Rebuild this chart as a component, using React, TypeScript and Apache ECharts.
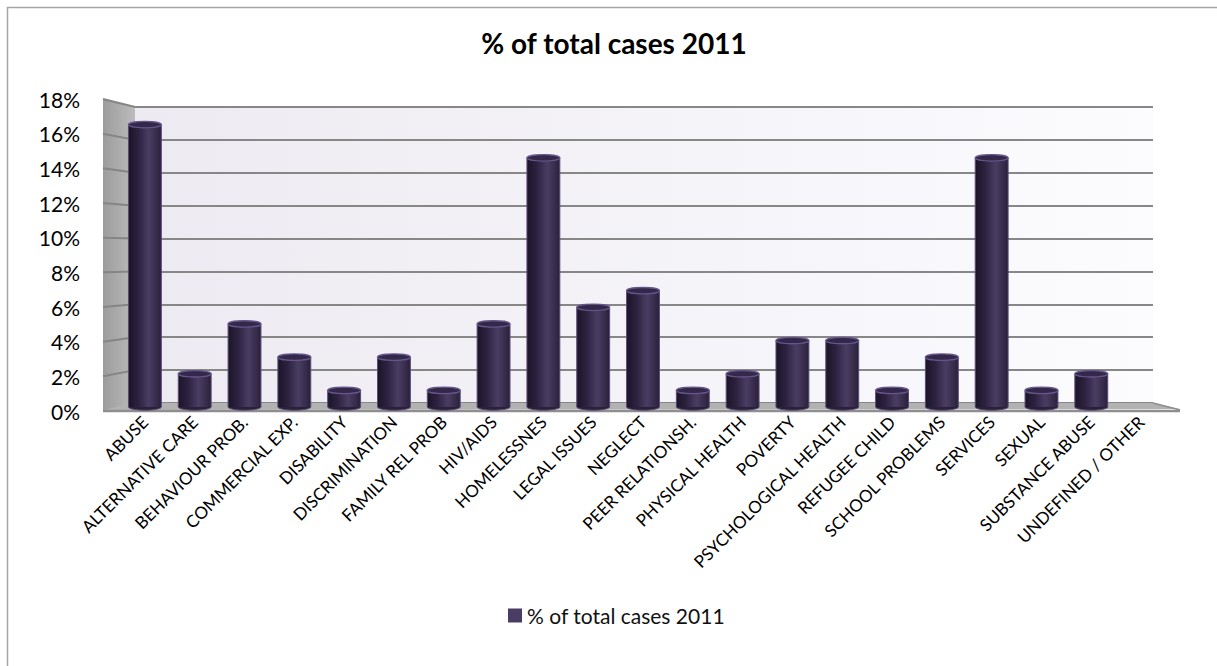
import React, { useEffect, useRef } from "react";
import * as echarts from "echarts";

const categories = [
  "ABUSE", "ALTERNATIVE CARE", "BEHAVIOUR PROB.", "COMMERCIAL EXP.", "DISABILITY",
  "DISCRIMINATION", "FAMILY REL PROB", "HIV/AIDS", "HOMELESSNES", "LEGAL ISSUES",
  "NEGLECT", "PEER RELATIONSH.", "PHYSICAL HEALTH", "POVERTY", "PSYCHOLOGICAL HEALTH",
  "REFUGEE CHILD", "SCHOOL PROBLEMS", "SERVICES", "SEXUAL", "SUBSTANCE ABUSE",
  "UNDEFINED / OTHER",
];
const values = [17, 2, 5, 3, 1, 3, 1, 5, 15, 6, 7, 1, 2, 4, 4, 1, 3, 15, 1, 2, 0];
const yTicks = [0, 2, 4, 6, 8, 10, 12, 14, 16, 18];
const seriesName = "% of total cases 2011";
const chartTitle = "% of total cases 2011";

const FONT = "Lato, 'Open Sans', sans-serif";
const W = 1217;
const H = 666;
// layout of the pseudo-3D box
const WALL = { left: 135, right: 1153, top: 107, bottom: 403 };
const FRONT = { left: 103, right: 1180, top: 99, bottom: 411 };
const BARS = { left: 120, right: 1166, top: 108, bottom: 407 };

export default function App() {
  const ref = useRef<HTMLDivElement>(null);

  useEffect(() => {
    document.body.style.margin = "0";
    if (!ref.current) return;
    const chart = echarts.init(ref.current, undefined, { renderer: "svg" });
    const yMax = yTicks[yTicks.length - 1];
    const wallY = (v: number) => WALL.bottom - (v / yMax) * (WALL.bottom - WALL.top);
    const frontY = (v: number) => FRONT.bottom - (v / yMax) * (FRONT.bottom - FRONT.top);

    const graphics: any[] = [
      // outer chart border
      {
        type: "rect",
        z: 0,
        shape: { x: 7.5, y: 7.5, width: 1260, height: 720 },
        style: { fill: "none", stroke: "#a6a6a6", lineWidth: 1.5 },
      },
      // left side wall
      {
        type: "polygon",
        z: 1,
        shape: {
          points: [
            [FRONT.left, FRONT.top],
            [WALL.left, WALL.top],
            [WALL.left, WALL.bottom],
            [FRONT.left, FRONT.bottom],
          ],
        },
        style: {
          fill: new echarts.graphic.LinearGradient(0, 0, 1, 0, [
            { offset: 0, color: "#9c9c9c" },
            { offset: 1, color: "#bcbcbc" },
          ]),
        },
      },
      // floor
      {
        type: "polygon",
        z: 1,
        shape: {
          points: [
            [WALL.left, WALL.bottom],
            [WALL.right, WALL.bottom],
            [FRONT.right, FRONT.bottom - 2],
            [FRONT.left, FRONT.bottom - 1],
          ],
        },
        style: { fill: "#b2b2b2" },
      },
      {
        type: "line",
        z: 1,
        shape: { x1: FRONT.left, y1: FRONT.bottom, x2: FRONT.right, y2: FRONT.bottom },
        style: { stroke: "#8e8e8e", lineWidth: 2.5 },
      },
      {
        type: "line",
        z: 1,
        shape: { x1: WALL.right, y1: WALL.bottom, x2: FRONT.right, y2: FRONT.bottom - 1 },
        style: { stroke: "#8e8e8e", lineWidth: 1.5 },
      },
    ];
    // slanted grid lines on the side wall
    yTicks.forEach((v) => {
      if (v === 0) return;
      graphics.push({
        type: "line",
        z: 1,
        shape: { x1: FRONT.left, y1: frontY(v), x2: WALL.left, y2: wallY(v) },
        style: { stroke: "#858585", lineWidth: 2 },
      });
    });

    const bodyGrad = () =>
      new echarts.graphic.LinearGradient(0, 0, 1, 0, [
        { offset: 0, color: "#1c1526" },
        { offset: 0.3, color: "#2c2240" },
        { offset: 0.62, color: "#4a3d63" },
        { offset: 0.88, color: "#352a48" },
        { offset: 1, color: "#2a2037" },
      ]);

    chart.setOption({
      animation: false,
      backgroundColor: "#ffffff",
      title: {
        text: chartTitle,
        left: 614,
        textAlign: "center",
        top: 29,
        padding: 0,
        textStyle: { fontFamily: FONT, fontWeight: "bold", fontSize: 28, color: "#000" },
      },
      legend: {
        left: 508,
        top: 605,
        padding: 0,
        itemWidth: 14,
        itemHeight: 14,
        itemGap: 6,
        icon: "rect",
        data: [seriesName],
        textStyle: { fontFamily: FONT, fontSize: 21, color: "#111" },
      },
      graphic: graphics,
      grid: [
        {
          left: WALL.left,
          right: W - WALL.right,
          top: WALL.top,
          bottom: H - WALL.bottom,
          show: true,
          borderWidth: 0,
          backgroundColor: new echarts.graphic.LinearGradient(0, 0, 1, 0, [
            { offset: 0, color: "#edebf1" },
            { offset: 1, color: "#fcfbfe" },
          ]),
        },
        { left: BARS.left, right: W - BARS.right, top: BARS.top, bottom: H - BARS.bottom },
        { left: FRONT.left, right: W - BARS.right, top: FRONT.top, bottom: H - FRONT.bottom },
      ],
      xAxis: [
        { gridIndex: 0, type: "value", min: 0, max: 1, show: false },
        {
          gridIndex: 1,
          type: "category",
          data: categories,
          axisLine: { show: false },
          axisTick: { show: false },
          splitLine: { show: false },
          axisLabel: {
            interval: 0,
            rotate: 45,
            margin: 12,
            fontFamily: FONT,
            fontSize: 17,
            color: "#000",
          },
        },
        { gridIndex: 2, type: "value", min: 0, max: 1, show: false },
      ],
      yAxis: [
        {
          gridIndex: 0,
          type: "value",
          min: 0,
          max: yMax,
          interval: 2,
          axisLabel: { show: false },
          axisLine: { show: false },
          axisTick: { show: false },
          splitLine: { show: true, lineStyle: { color: "#878787", width: 2 } },
        },
        { gridIndex: 1, type: "value", min: 0, max: yMax, interval: 2, show: false },
        {
          gridIndex: 2,
          type: "value",
          min: 0,
          max: yMax,
          interval: 2,
          axisLine: { show: false },
          axisTick: { show: false },
          splitLine: { show: false },
          axisLabel: {
            margin: 23,
            fontFamily: FONT,
            fontSize: 21,
            color: "#000",
            formatter: (v: number) => `${v}%`,
          },
        },
      ],
      series: [
        {
          name: seriesName,
          type: "custom",
          xAxisIndex: 1,
          yAxisIndex: 1,
          z: 5,
          itemStyle: { color: "#4b3c66" },
          encode: { x: 0, y: 1 },
          data: values.map((v, i) => [i, v]),
          renderItem: (params: any, api: any) => {
            const idx = api.value(0);
            const v = api.value(1);
            if (!(v > 0)) return null;
            const top = api.coord([idx, v]);
            const base = api.coord([idx, 0]);
            const bw = api.size([1, 0])[0] * 0.66;
            const x = top[0] - bw / 2;
            const ry = 3.2;
            return {
              type: "group",
              children: [
                {
                  type: "ellipse",
                  shape: { cx: base[0], cy: base[1], rx: bw / 2, ry },
                  style: { fill: "#2a2037", stroke: "#5b4b7d", lineWidth: 1 },
                },
                {
                  type: "rect",
                  shape: { x, y: top[1], width: bw, height: base[1] - top[1] },
                  style: { fill: bodyGrad() },
                },
                {
                  type: "line",
                  shape: { x1: x, y1: top[1], x2: x, y2: base[1] },
                  style: { stroke: "#5b4b7d", lineWidth: 1 },
                },
                {
                  type: "line",
                  shape: { x1: x + bw, y1: top[1], x2: x + bw, y2: base[1] },
                  style: { stroke: "#5b4b7d", lineWidth: 1 },
                },
                {
                  type: "ellipse",
                  shape: { cx: top[0], cy: top[1], rx: bw / 2, ry },
                  style: { fill: "#33284a", stroke: "#65558a", lineWidth: 1.3 },
                },
              ],
            };
          },
        },
      ],
    });

    return () => chart.dispose();
  }, []);

  return <div ref={ref} style={{ width: W, height: H }} />;
}
